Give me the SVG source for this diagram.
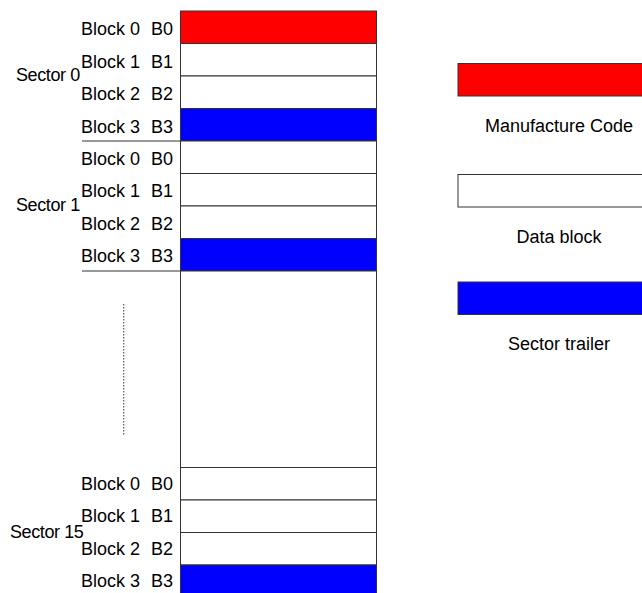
<svg xmlns="http://www.w3.org/2000/svg" width="642" height="593" viewBox="0 0 642 593">
<style>
text{font-family:"Liberation Sans",Arial,sans-serif;font-size:18px;fill:#000}
.r{text-anchor:end}
.m{text-anchor:middle}
.blk{stroke:#333;stroke-width:1}
.red{fill:#ff0000}
.wht{fill:#ffffff}
.blu{fill:#0000ff}
</style>
<rect width="642" height="593" fill="#fff"/>
<g id="sector0">
<rect class="blk red" x="180.5" y="11" width="196" height="32.5"/>
<rect class="blk wht" x="180.5" y="43.5" width="196" height="32.5"/>
<rect class="blk wht" x="180.5" y="76" width="196" height="32.5"/>
<rect class="blk blu" x="180.5" y="108.5" width="196" height="32.5"/>
<text x="81" y="35">Block 0</text><text class="r" x="173" y="35">B0</text>
<text x="81" y="67.5">Block 1</text><text class="r" x="173" y="67.5">B1</text>
<text x="81" y="100">Block 2</text><text class="r" x="173" y="100">B2</text>
<text x="81" y="132.5">Block 3</text><text class="r" x="173" y="132.5">B3</text>
<text x="16" y="81" letter-spacing="-0.4">Sector 0</text>
</g>
<g id="sector1">
<rect class="blk wht" x="180.5" y="141" width="196" height="32.5"/>
<rect class="blk wht" x="180.5" y="173.5" width="196" height="32.5"/>
<rect class="blk wht" x="180.5" y="206" width="196" height="32.5"/>
<rect class="blk blu" x="180.5" y="238.5" width="196" height="32.5"/>
<text x="81" y="164.5">Block 0</text><text class="r" x="173" y="164.5">B0</text>
<text x="81" y="197">Block 1</text><text class="r" x="173" y="197">B1</text>
<text x="81" y="229.5">Block 2</text><text class="r" x="173" y="229.5">B2</text>
<text x="81" y="262">Block 3</text><text class="r" x="173" y="262">B3</text>
<text x="16" y="211" letter-spacing="-0.4">Sector 1</text>
</g>
<g id="gap">
<rect class="blk wht" x="180.5" y="271" width="196" height="196.5"/>
</g>
<g id="sector15">
<rect class="blk wht" x="180.5" y="467.5" width="196" height="32.5"/>
<rect class="blk wht" x="180.5" y="500" width="196" height="32.5"/>
<rect class="blk wht" x="180.5" y="532.5" width="196" height="32.5"/>
<rect class="blk blu" x="180.5" y="565" width="196" height="32.5"/>
<text x="81" y="489.5">Block 0</text><text class="r" x="173" y="489.5">B0</text>
<text x="81" y="522">Block 1</text><text class="r" x="173" y="522">B1</text>
<text x="81" y="554.5">Block 2</text><text class="r" x="173" y="554.5">B2</text>
<text x="81" y="587">Block 3</text><text class="r" x="173" y="587">B3</text>
<text x="10" y="538" letter-spacing="-0.4">Sector 15</text>
</g>
<g id="connectors" stroke="#333" stroke-width="1" fill="none">
<line x1="82" y1="141" x2="181" y2="141"/>
<line x1="82" y1="271" x2="181" y2="271"/>
<line x1="123.7" y1="304" x2="123.7" y2="435" stroke="#555" stroke-dasharray="1.5 1.5" stroke-width="1.2"/>
</g>
<g id="legend-mfg">
<rect class="blk red" x="458" y="63.5" width="200" height="32.5"/>
<text class="m" x="559" y="132">Manufacture Code</text>
</g>
<g id="legend-data">
<rect class="blk wht" x="458" y="174.5" width="200" height="32.5"/>
<text class="m" x="559" y="243">Data block</text>
</g>
<g id="legend-trailer">
<rect class="blk blu" x="458" y="282" width="200" height="32.5"/>
<text class="m" x="559" y="350">Sector trailer</text>
</g>
</svg>
